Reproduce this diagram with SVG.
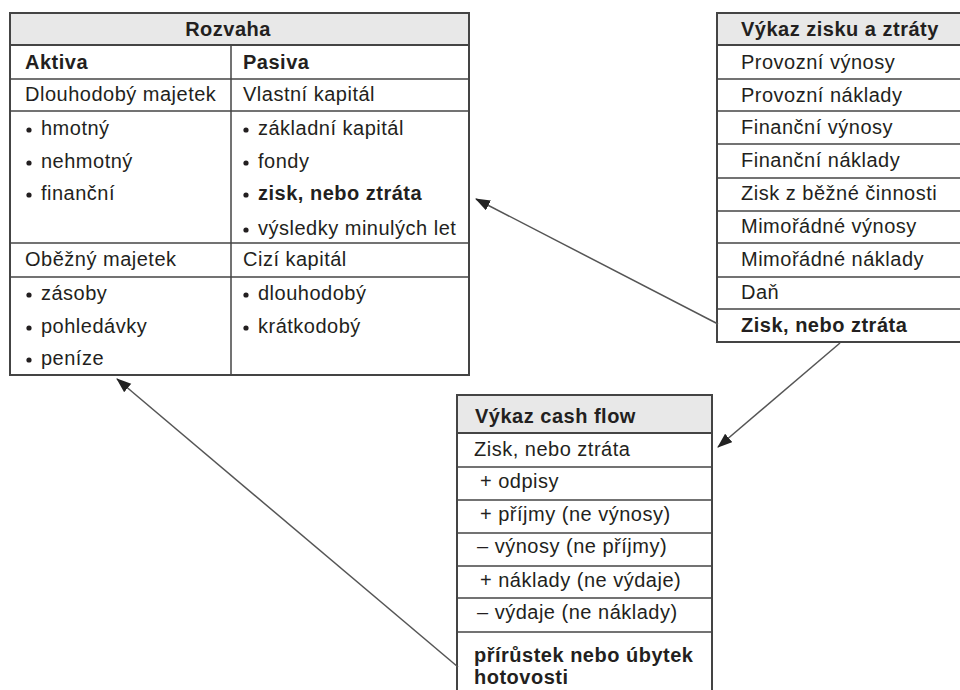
<svg xmlns="http://www.w3.org/2000/svg" width="960" height="690" viewBox="0 0 960 690">
<defs>
<style>
text{font-family:"Liberation Sans",Arial,sans-serif;font-size:20px;letter-spacing:0.5px;fill:#231f20}
.b{font-weight:bold}
.box{fill:#fff;stroke:#444;stroke-width:2}
.hd{fill:#e8e8e8;stroke:#444;stroke-width:2}
.ln{stroke:#444;stroke-width:1.5;fill:none}
.dot{fill:#231f20}
.conn{stroke:#555;stroke-width:1.5;fill:none;marker-end:url(#ah)}
</style>
<marker id="ah" markerUnits="userSpaceOnUse" markerWidth="16" markerHeight="12" refX="14" refY="5.5" orient="auto">
<path d="M0,0 L15,5.5 L0,11 z" fill="#222"/>
</marker>
</defs>
<rect width="960" height="690" fill="#fff"/>

<g id="rozvaha">
<rect class="box" x="10" y="13" width="459" height="362"/>
<rect class="hd" x="10" y="13" width="459" height="32"/>
<text class="b" x="228" y="36" text-anchor="middle">Rozvaha</text>
<line class="ln" x1="231" y1="45" x2="231" y2="375"/>
<line class="ln" x1="10" y1="79" x2="469" y2="79"/>
<line class="ln" x1="10" y1="111" x2="469" y2="111"/>
<line class="ln" x1="10" y1="243" x2="469" y2="243"/>
<line class="ln" x1="10" y1="277" x2="469" y2="277"/>
<text class="b" x="25" y="69">Aktiva</text>
<text class="b" x="243" y="69">Pasiva</text>
<text x="25" y="101">Dlouhodobý majetek</text>
<text x="243" y="101">Vlastní kapitál</text>
<circle class="dot" cx="29" cy="130" r="2.6"/><text x="41" y="135">hmotný</text>
<circle class="dot" cx="29" cy="163" r="2.6"/><text x="41" y="168">nehmotný</text>
<circle class="dot" cx="29" cy="195" r="2.6"/><text x="41" y="200">finanční</text>
<circle class="dot" cx="246" cy="130" r="2.6"/><text x="258" y="135">základní kapitál</text>
<circle class="dot" cx="246" cy="163" r="2.6"/><text x="258" y="168">fondy</text>
<circle class="dot" cx="246" cy="195" r="2.6"/><text class="b" x="258" y="200">zisk, nebo ztráta</text>
<circle class="dot" cx="246" cy="230" r="2.6"/><text x="258" y="235">výsledky minulých let</text>
<text x="25" y="266">Oběžný majetek</text>
<text x="243" y="266">Cizí kapitál</text>
<circle class="dot" cx="29" cy="295" r="2.6"/><text x="41" y="300">zásoby</text>
<circle class="dot" cx="29" cy="328" r="2.6"/><text x="41" y="333">pohledávky</text>
<circle class="dot" cx="29" cy="360" r="2.6"/><text x="41" y="365">peníze</text>
<circle class="dot" cx="246" cy="295" r="2.6"/><text x="258" y="300">dlouhodobý</text>
<circle class="dot" cx="246" cy="328" r="2.6"/><text x="258" y="333">krátkodobý</text>
</g>

<g id="vykaz-zisku">
<rect class="box" x="717" y="13" width="260" height="329"/>
<rect class="hd" x="717" y="13" width="260" height="32"/>
<text class="b" x="741" y="36">Výkaz zisku a ztráty</text>
<line class="ln" x1="717" y1="79" x2="960" y2="79"/>
<line class="ln" x1="717" y1="111" x2="960" y2="111"/>
<line class="ln" x1="717" y1="144" x2="960" y2="144"/>
<line class="ln" x1="717" y1="178" x2="960" y2="178"/>
<line class="ln" x1="717" y1="211" x2="960" y2="211"/>
<line class="ln" x1="717" y1="243" x2="960" y2="243"/>
<line class="ln" x1="717" y1="277" x2="960" y2="277"/>
<line class="ln" x1="717" y1="309" x2="960" y2="309"/>
<text x="741" y="69">Provozní výnosy</text>
<text x="741" y="102">Provozní náklady</text>
<text x="741" y="134">Finanční výnosy</text>
<text x="741" y="167">Finanční náklady</text>
<text x="741" y="200">Zisk z běžné činnosti</text>
<text x="741" y="233">Mimořádné výnosy</text>
<text x="741" y="266">Mimořádné náklady</text>
<text x="741" y="299">Daň</text>
<text class="b" x="741" y="332">Zisk, nebo ztráta</text>
</g>

<g id="cash-flow">
<rect class="box" x="457" y="395" width="255" height="310"/>
<rect class="hd" x="457" y="395" width="255" height="38"/>
<text class="b" x="475" y="423">Výkaz cash flow</text>
<line class="ln" x1="457" y1="467" x2="712" y2="467"/>
<line class="ln" x1="457" y1="500" x2="712" y2="500"/>
<line class="ln" x1="457" y1="533" x2="712" y2="533"/>
<line class="ln" x1="457" y1="566" x2="712" y2="566"/>
<line class="ln" x1="457" y1="598" x2="712" y2="598"/>
<line class="ln" x1="457" y1="632" x2="712" y2="632"/>
<text x="474" y="456">Zisk, nebo ztráta</text>
<text x="480" y="488">+ odpisy</text>
<text x="480" y="521">+ příjmy (ne výnosy)</text>
<text x="477" y="553">– výnosy (ne příjmy)</text>
<text x="480" y="587">+ náklady (ne výdaje)</text>
<text x="477" y="619">– výdaje (ne náklady)</text>
<text class="b" x="474" y="662">přírůstek nebo úbytek</text>
<text class="b" x="474" y="684">hotovosti</text>
</g>

<g id="connectors">
<line class="conn" x1="718" y1="324" x2="476" y2="199"/>
<line class="conn" x1="840" y1="343" x2="718" y2="447"/>
<line class="conn" x1="458" y1="667" x2="117" y2="379"/>
</g>
</svg>
